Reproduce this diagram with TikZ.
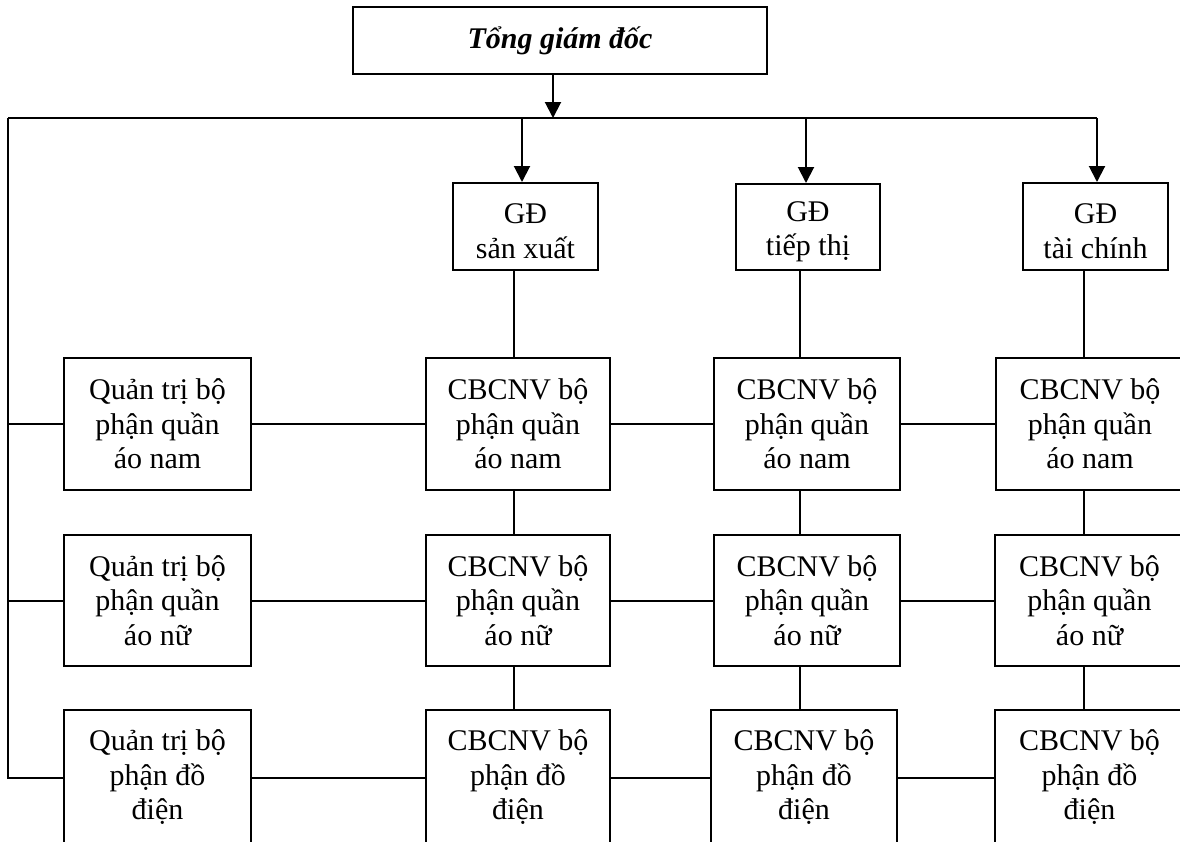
\documentclass[tikz,border=0pt]{standalone}
\usepackage{fontspec}
\setmainfont{Liberation Serif}
\usetikzlibrary{arrows.meta}

% box given by its corners (x1,y1) and (x2,y2), in pixel units
\newcommand\cellbox[6]{%
  \node[cell,minimum width={(#4-#2)*0.5pt},minimum height={(#5-#3)*0.5pt}]
    (#1) at ({(#2+#4)/2},{(#3+#5)/2}) {#6};}
% taller first line, so that the two lines sit a little lower
\newcommand\lowstrut{\rule{0pt}{14.5pt}}

\begin{document}
\begin{tikzpicture}[x=0.5pt,y=-0.5pt,
  cell/.style={draw,line width=1pt,align=center,inner sep=0pt,
    font=\fontsize{15pt}{17.25pt}\selectfont},
  link/.style={line width=1pt},
  arr/.style={line width=1pt,-{Triangle[width=8pt,length=8pt]}}]
\useasboundingbox (0,0) rectangle (1180,842);
\begin{scope}
\clip (0,0) rectangle (1180,842);

% director
\cellbox{T}{353}{7}{767}{74}{\bfseries\itshape Tổng giám đốc}

% deputy directors
\cellbox{G1}{453}{183}{598}{270}{\lowstrut GĐ\\sản xuất}
\cellbox{G2}{736}{184}{880}{270}{\lowstrut GĐ\\tiếp thị}
\cellbox{G3}{1023}{183}{1168}{270}{\lowstrut GĐ\\tài chính}

% department managers
\cellbox{Q1}{64}{358}{251}{490}{Quản trị bộ\\phận quần\\áo nam}
\cellbox{Q2}{64}{535}{251}{666}{Quản trị bộ\\phận quần\\áo nữ}
\cellbox{Q3}{64}{710}{251}{845}{Quản trị bộ\\phận đồ\\điện}

% staff, production column
\cellbox{C11}{426}{358}{610}{490}{CBCNV bộ\\phận quần\\áo nam}
\cellbox{C21}{426}{535}{610}{666}{CBCNV bộ\\phận quần\\áo nữ}
\cellbox{C31}{426}{710}{610}{845}{CBCNV bộ\\phận đồ\\điện}

% staff, marketing column
\cellbox{C12}{714}{358}{900}{490}{CBCNV bộ\\phận quần\\áo nam}
\cellbox{C22}{714}{535}{900}{666}{CBCNV bộ\\phận quần\\áo nữ}
\cellbox{C32}{711}{710}{897}{845}{CBCNV bộ\\phận đồ\\điện}

% staff, finance column
\cellbox{C13}{996}{358}{1184}{490}{CBCNV bộ\\phận quần\\áo nam}
\cellbox{C23}{995}{535}{1184}{666}{CBCNV bộ\\phận quần\\áo nữ}
\cellbox{C33}{995}{710}{1184}{845}{CBCNV bộ\\phận đồ\\điện}

% distribution bus
\coordinate (tA) at (553,118);
\coordinate (L) at (8,118);
\coordinate (a1) at (522,118);
\coordinate (a2) at (806,118);
\coordinate (a3) at (1097,118);
\draw[arr] (T.south -| tA) -- (tA);
\draw[link] (L) -- (a3);
\draw[arr] (a1) -- (a1 |- G1.north);
\draw[arr] (a2) -- (a2 |- G2.north);
\draw[arr] (a3) -- (a3 |- G3.north);

% left feeder to the managers
\draw[link] (L) |- (Q3.west);
\draw[link] (L |- Q1.west) -- (Q1.west);
\draw[link] (L |- Q2.west) -- (Q2.west);

% vertical chains under each deputy director
\coordinate (v1) at (514,0);
\coordinate (v2) at (800,0);
\coordinate (v3) at (1084,0);
\draw[link] (G1.south -| v1) -- (C11.north -| v1);
\draw[link] (C11.south -| v1) -- (C21.north -| v1);
\draw[link] (C21.south -| v1) -- (C31.north -| v1);
\draw[link] (G2.south -| v2) -- (C12.north -| v2);
\draw[link] (C12.south -| v2) -- (C22.north -| v2);
\draw[link] (C22.south -| v2) -- (C32.north -| v2);
\draw[link] (G3.south -| v3) -- (C13.north -| v3);
\draw[link] (C13.south -| v3) -- (C23.north -| v3);
\draw[link] (C23.south -| v3) -- (C33.north -| v3);

% horizontal links along each row
\draw[link] (Q1.east) -- (C11.west);
\draw[link] (C11.east) -- (C12.west);
\draw[link] (C12.east) -- (C13.west);
\draw[link] (Q2.east) -- (C21.west);
\draw[link] (C21.east) -- (C22.west);
\draw[link] (C22.east) -- (C23.west);
\draw[link] (Q3.east) -- (C31.west);
\draw[link] (C31.east) -- (C32.west);
\draw[link] (C32.east) -- (C33.west);
\end{scope}
\end{tikzpicture}
\end{document}
